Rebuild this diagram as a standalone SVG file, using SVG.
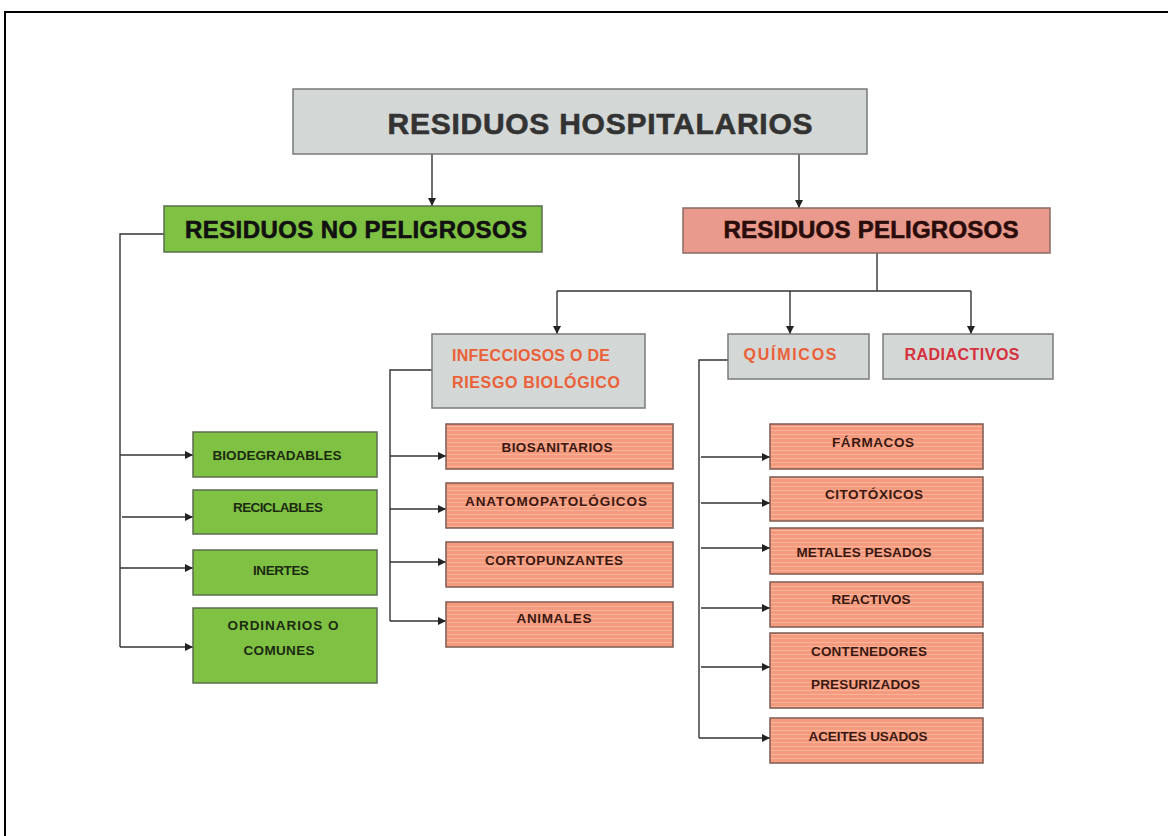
<svg xmlns="http://www.w3.org/2000/svg" width="1168" height="836" viewBox="0 0 1168 836">
<defs>
<pattern id="stripe" width="8" height="4" patternUnits="userSpaceOnUse">
<rect width="8" height="4" fill="#f59a7d"/>
<rect y="2" width="8" height="1" fill="#f8b49d"/>
</pattern>
<marker id="ah" viewBox="0 0 10 10" refX="10" refY="5" markerWidth="8" markerHeight="8" markerUnits="userSpaceOnUse" orient="auto">
<path d="M0,0 L10,5 L0,10 z" fill="#222"/>
</marker>
<style>
text{font-family:"Liberation Sans",Arial,sans-serif;font-weight:bold;text-anchor:middle}
.gray{fill:#d3d7d6;stroke:#7a7a7a;stroke-width:1.5}
.green{fill:#7fc243;stroke:#5b6e4f;stroke-width:1.5}
.salmon{fill:url(#stripe);stroke:#7d5a50;stroke-width:1.5}
.pel{fill:#e99a8c;stroke:#8a6a66;stroke-width:1.5}
.sg{font-size:13.5px;fill:#1c2a12}
.ss{font-size:13.5px;fill:#3a1810}
.or{font-size:16px;fill:#ec6038}
.rd{font-size:16px;fill:#d6303c}
.big{stroke-width:0.6}
.c{fill:none;stroke:#333;stroke-width:1.4}
.a{marker-end:url(#ah)}
</style>
</defs>
<rect width="1168" height="836" fill="#fff"/>
<path d="M5,836 V12 H1168" fill="none" stroke="#000" stroke-width="2"/>

<g id="connectors">
<path class="c a" d="M432,154 V206"/>
<path class="c a" d="M799,154 V208"/>
<path class="c" d="M164,234 H120 V647"/>
<path class="c a" d="M120,455 H193"/>
<path class="c a" d="M122,517 H193"/>
<path class="c a" d="M120,568 H193"/>
<path class="c a" d="M120,647 H193"/>
<path class="c" d="M877,253 V291 M557,291 H971"/>
<path class="c a" d="M557,291 V334"/>
<path class="c a" d="M790,291 V334"/>
<path class="c a" d="M971,291 V334"/>
<path class="c" d="M432,370 H390 V621"/>
<path class="c a" d="M390,456 H446"/>
<path class="c a" d="M390,509 H446"/>
<path class="c a" d="M390,562 H446"/>
<path class="c a" d="M390,621 H446"/>
<path class="c" d="M728,360 H699 V738"/>
<path class="c a" d="M701,457 H770"/>
<path class="c a" d="M701,503 H770"/>
<path class="c a" d="M701,548 H770"/>
<path class="c a" d="M701,608 H770"/>
<path class="c a" d="M701,667 H770"/>
<path class="c a" d="M699,738 H770"/>
</g>

<g id="hospitalarios">
<rect class="gray" x="293" y="89" width="574" height="65"/>
<text class="big" x="600" y="134" font-size="30" fill="#333" stroke="#333" textLength="425" lengthAdjust="spacing">RESIDUOS HOSPITALARIOS</text>
</g>
<g id="no-peligrosos">
<rect class="green" x="164" y="206" width="378" height="46"/>
<text class="big" x="356" y="238" font-size="24" fill="#111" stroke="#111" textLength="342" lengthAdjust="spacing">RESIDUOS NO PELIGROSOS</text>
</g>
<g id="peligrosos">
<rect class="pel" x="683" y="208" width="367" height="45"/>
<text class="big" x="871" y="238" font-size="24" fill="#2a0c0a" stroke="#2a0c0a" textLength="295" lengthAdjust="spacing">RESIDUOS PELIGROSOS</text>
</g>

<g id="infecciosos">
<rect class="gray" x="432" y="334" width="213" height="74"/>
<text class="or" x="452" y="361" style="text-anchor:start" textLength="158" lengthAdjust="spacing">INFECCIOSOS O DE</text>
<text class="or" x="452" y="388" style="text-anchor:start" textLength="168" lengthAdjust="spacing">RIESGO BIOLÓGICO</text>
</g>
<g id="quimicos">
<rect class="gray" x="728" y="334" width="141" height="45"/>
<text class="or" x="790" y="360" textLength="93" lengthAdjust="spacing">QUÍMICOS</text>
</g>
<g id="radiactivos">
<rect class="gray" x="883" y="334" width="170" height="45"/>
<text class="rd" x="962" y="360" textLength="115" lengthAdjust="spacing">RADIACTIVOS</text>
</g>

<g id="biodegradables">
<rect class="green" x="193" y="432" width="184" height="45"/>
<text class="sg" x="277" y="460" textLength="129" lengthAdjust="spacing">BIODEGRADABLES</text>
</g>
<g id="reciclables">
<rect class="green" x="193" y="490" width="184" height="44"/>
<text class="sg" x="278" y="512" textLength="90" lengthAdjust="spacing">RECICLABLES</text>
</g>
<g id="inertes">
<rect class="green" x="193" y="550" width="184" height="45"/>
<text class="sg" x="281" y="575" textLength="56" lengthAdjust="spacing">INERTES</text>
</g>
<g id="ordinarios">
<rect class="green" x="193" y="608" width="184" height="75"/>
<text class="sg" x="283" y="630" textLength="111" lengthAdjust="spacing">ORDINARIOS O</text>
<text class="sg" x="279" y="655" textLength="71" lengthAdjust="spacing">COMUNES</text>
</g>

<g id="biosanitarios">
<rect class="salmon" x="446" y="424" width="227" height="45"/>
<text class="ss" x="557" y="452" textLength="111" lengthAdjust="spacing">BIOSANITARIOS</text>
</g>
<g id="anatomopatologicos">
<rect class="salmon" x="446" y="483" width="227" height="45"/>
<text class="ss" x="556" y="506" textLength="182" lengthAdjust="spacing">ANATOMOPATOLÓGICOS</text>
</g>
<g id="cortopunzantes">
<rect class="salmon" x="446" y="542" width="227" height="45"/>
<text class="ss" x="554" y="565" textLength="138" lengthAdjust="spacing">CORTOPUNZANTES</text>
</g>
<g id="animales">
<rect class="salmon" x="446" y="602" width="227" height="45"/>
<text class="ss" x="554" y="623" textLength="75" lengthAdjust="spacing">ANIMALES</text>
</g>

<g id="farmacos">
<rect class="salmon" x="770" y="424" width="213" height="45"/>
<text class="ss" x="873" y="447" textLength="82" lengthAdjust="spacing">FÁRMACOS</text>
</g>
<g id="citotoxicos">
<rect class="salmon" x="770" y="477" width="213" height="44"/>
<text class="ss" x="874" y="499" textLength="98" lengthAdjust="spacing">CITOTÓXICOS</text>
</g>
<g id="metales">
<rect class="salmon" x="770" y="528" width="213" height="46"/>
<text class="ss" x="864" y="557" textLength="135" lengthAdjust="spacing">METALES PESADOS</text>
</g>
<g id="reactivos">
<rect class="salmon" x="770" y="582" width="213" height="45"/>
<text class="ss" x="871" y="604" textLength="79" lengthAdjust="spacing">REACTIVOS</text>
</g>
<g id="contenedores">
<rect class="salmon" x="770" y="633" width="213" height="75"/>
<text class="ss" x="811" y="656" style="text-anchor:start" textLength="116" lengthAdjust="spacing">CONTENEDORES</text>
<text class="ss" x="811" y="689" style="text-anchor:start" textLength="109" lengthAdjust="spacing">PRESURIZADOS</text>
</g>
<g id="aceites">
<rect class="salmon" x="770" y="718" width="213" height="45"/>
<text class="ss" x="868" y="741" textLength="119" lengthAdjust="spacing">ACEITES USADOS</text>
</g>
</svg>
